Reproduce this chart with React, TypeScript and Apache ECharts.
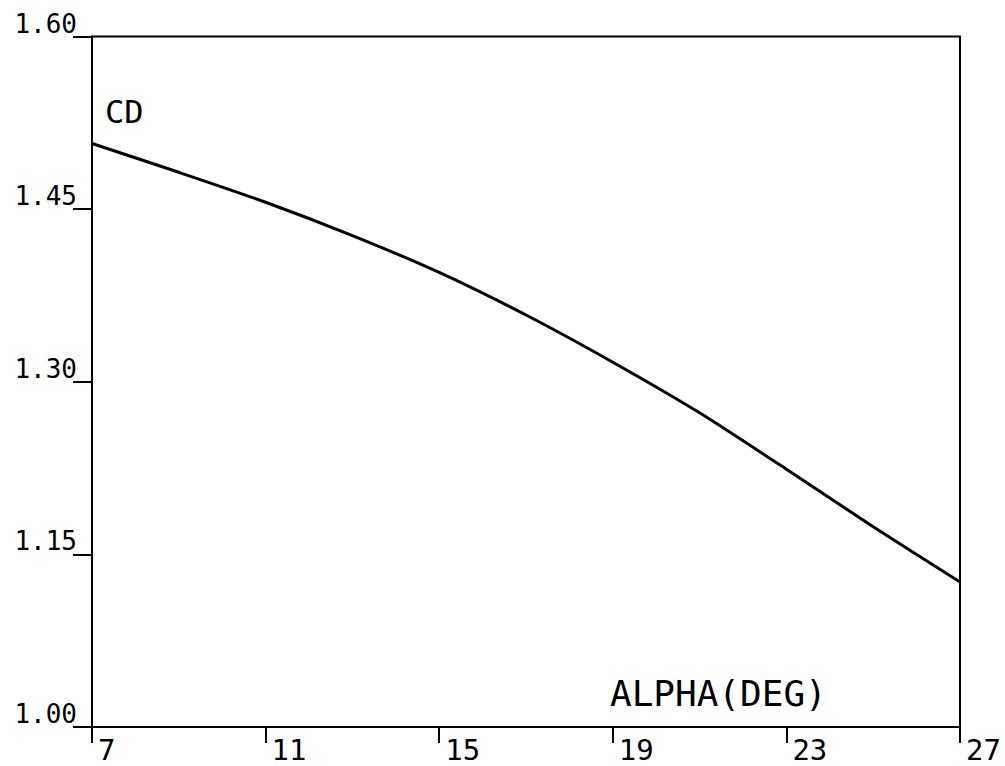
import React, { useEffect, useRef } from "react";
import * as echarts from "echarts";

const alpha = [7, 9, 11, 13, 15, 17, 19, 21, 23, 25, 27];
const cd = [1.507, 1.482, 1.456, 1.427, 1.395, 1.358, 1.317, 1.273, 1.224, 1.174, 1.126];
const xTicks = [7, 11, 15, 19, 23, 27];
const yTicks = [1.0, 1.15, 1.3, 1.45, 1.6];
const xName = "ALPHA(DEG)";
const yName = "CD";

const FONT = "DejaVu Sans Mono";

export default function App() {
  const ref = useRef<HTMLDivElement>(null);
  useEffect(() => {
    if (!ref.current) return;
    const chart = echarts.init(ref.current, undefined, { renderer: "svg" });
    chart.setOption({
      animation: false,
      backgroundColor: "#fff",
      grid: {
        left: 92,
        right: 45,
        top: 36.5,
        bottom: 39,
        show: true,
        borderColor: "#000",
        borderWidth: 2,
      },
      xAxis: {
        type: "value",
        min: 7,
        max: 27,
        splitLine: { show: false },
        axisLine: { show: true, onZero: false, lineStyle: { color: "#000", width: 2 } },
        axisTick: {
          show: true,
          inside: false,
          length: 16,
          customValues: xTicks,
          lineStyle: { color: "#000", width: 2 },
        },
        axisLabel: {
          customValues: xTicks,
          align: "left",
          verticalAlign: "top",
          margin: 8,
          padding: [0, 0, 0, 6],
          color: "#000",
          fontFamily: FONT,
          fontSize: 29,
        },
      },
      yAxis: {
        type: "value",
        min: 1.0,
        max: 1.6,
        splitLine: { show: false },
        axisLine: { show: true, onZero: false, lineStyle: { color: "#000", width: 2 } },
        axisTick: {
          show: true,
          inside: false,
          length: 19,
          customValues: yTicks,
          lineStyle: { color: "#000", width: 2 },
        },
        axisLabel: {
          customValues: yTicks,
          formatter: (v: number) => v.toFixed(2),
          align: "right",
          verticalAlign: "bottom",
          margin: 15,
          color: "#000",
          fontFamily: FONT,
          fontSize: 26,
        },
      },
      graphic: [
        {
          type: "text",
          left: 105,
          top: 96,
          style: { text: yName, fill: "#000", font: `32px "${FONT}"` },
        },
        {
          type: "text",
          left: 610,
          top: 675,
          style: { text: xName, fill: "#000", font: `36px "${FONT}"` },
        },
      ],
      series: [
        {
          type: "line",
          data: alpha.map((a, i) => [a, cd[i]]),
          smooth: 0.2,
          showSymbol: false,
          lineStyle: { color: "#000", width: 3 },
        },
      ],
    });
    return () => chart.dispose();
  }, []);
  return (
    <div
      ref={ref}
      style={{ position: "absolute", left: 0, top: 0, width: 1005, height: 766 }}
    />
  );
}
